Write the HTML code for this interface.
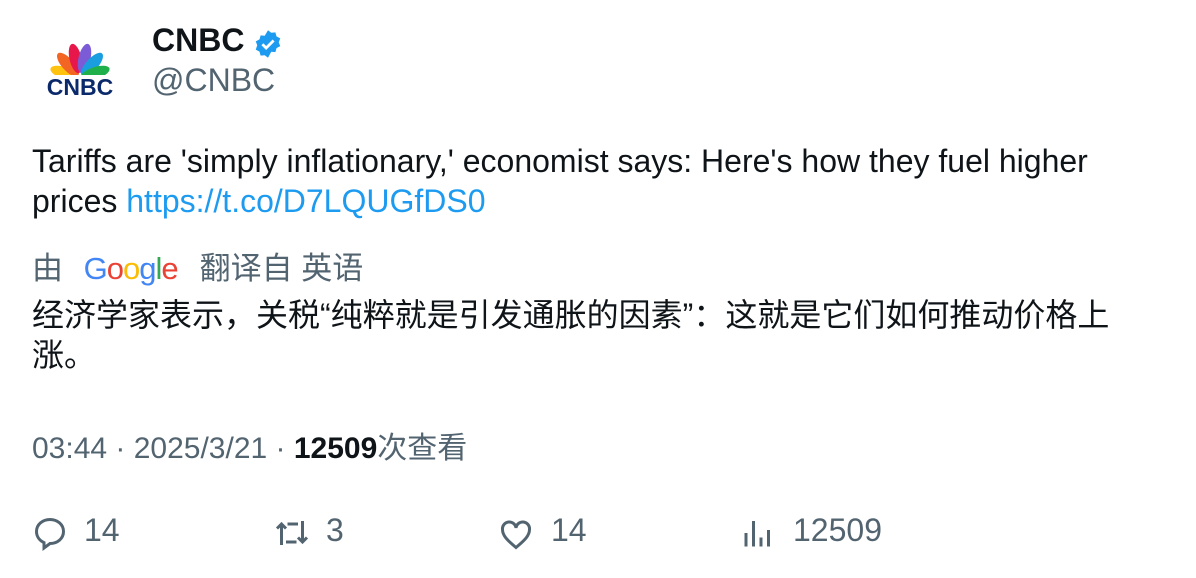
<!DOCTYPE html>
<html><head><meta charset="utf-8">
<style>
body{margin:0;width:1196px;height:578px;background:#fff;position:relative;overflow:hidden;font-family:"Liberation Sans","Noto Sans CJK SC",sans-serif;}
.a{position:absolute;white-space:nowrap;}
</style></head><body>
<svg class="a" style="left:44px;top:38px" width="72" height="62" viewBox="0 0 72 62">
 <g transform="translate(36,40)">
  <ellipse rx="6" ry="15" fill="#ffc20e" transform="rotate(-72) translate(0,-16)"/>
  <ellipse rx="6" ry="15" fill="#f26522" transform="rotate(-42) translate(0,-18)"/>
  <ellipse rx="6" ry="15" fill="#e8174b" transform="rotate(-13) translate(0,-20)"/>
  <ellipse rx="6" ry="15" fill="#7b5cd6" transform="rotate(13) translate(0,-20)"/>
  <ellipse rx="6" ry="15" fill="#1a9ee0" transform="rotate(42) translate(0,-18)"/>
  <ellipse rx="6" ry="15" fill="#20b04b" transform="rotate(72) translate(0,-16)"/>
 </g>
 <rect x="0" y="37" width="72" height="25" fill="#fff"/>
 <text x="36" y="57" text-anchor="middle" font-family="Liberation Sans" font-weight="bold" font-size="23" fill="#0b2a6b">CNBC</text>
</svg>
<div class="a" style="left:152px;top:22px;font-size:32px;font-weight:bold;color:#0f1419">CNBC</div>
<svg class="a" style="left:253px;top:29px" width="30" height="30" viewBox="0 0 24 24"><path d="M12 1l2.6 2 3.3-.3.9 3.2 3 1.6-1.2 3.1 1.2 3.1-3 1.6-.9 3.2-3.3-.3L12 23l-2.6-2-3.3.3-.9-3.2-3-1.6L3.4 13 2.2 9.9l3-1.6.9-3.2 3.3.3z" fill="#1d9bf0"/><path d="M7.5 12.2l3 3 6-6" stroke="#fff" stroke-width="2.2" fill="none"/></svg>
<div class="a" style="left:152px;top:62px;font-size:32px;color:#536471">@CNBC</div>
<div class="a" style="left:32px;top:141px;font-size:32px;line-height:40px;color:#0f1419;white-space:normal;width:1100px">Tariffs are 'simply inflationary,' economist says: Here's how they fuel higher prices <span style="color:#1d9bf0">https://t.co/D7LQUGfDS0</span></div>
<div class="a" style="left:32px;top:243px;font-size:31px;color:#536471">由 <span style="font-size:31px;letter-spacing:-1px;margin:0 22px 0 12px"><span style="color:#4285f4">G</span><span style="color:#ea4335">o</span><span style="color:#fbbc05">o</span><span style="color:#4285f4">g</span><span style="color:#34a853">l</span><span style="color:#ea4335">e</span></span>翻译自 英语</div>
<div class="a" style="left:32px;top:295px;font-size:32px;line-height:40px;color:#0f1419;white-space:normal;width:1110px">经济学家表示，关税“纯粹就是引发通胀的因素”：这就是它们如何推动价格上涨。</div>
<div class="a" style="left:32px;top:423px;font-size:30px;color:#536471">03:44 · 2025/3/21 · <b style="color:#0f1419">12509</b>次查看</div>
<svg class="a" style="left:32px;top:515px" width="36" height="36" viewBox="0 0 24 24"><path d="M12 3c5 0 9 3.4 9 8s-4 8-9 8l-4 3v-3.6C5 17 3 14.3 3 11c0-4.6 4-8 9-8z" fill="none" stroke="#536471" stroke-width="2"/></svg>
<div class="a" style="left:84px;top:512px;font-size:32px;color:#536471">14</div>
<svg class="a" style="left:274px;top:515px" width="36" height="36" viewBox="0 0 24 24"><path d="M5 20V6M2 9l3-3 3 3M9 6h7v0M19 4v14M16 15l3 3 3-3M15 18H8" fill="none" stroke="#536471" stroke-width="2"/></svg>
<div class="a" style="left:326px;top:512px;font-size:32px;color:#536471">3</div>
<svg class="a" style="left:498px;top:516px" width="36" height="36" viewBox="0 0 24 24"><path d="M12 21C6 16 3 13 3 9a4.5 4.5 0 0 1 9-1 4.5 4.5 0 0 1 9 1c0 4-3 7-9 12z" fill="none" stroke="#536471" stroke-width="2"/></svg>
<div class="a" style="left:551px;top:512px;font-size:32px;color:#536471">14</div>
<svg class="a" style="left:740px;top:515px" width="36" height="36" viewBox="0 0 24 24"><path d="M4 21v-9M9 21V4M14 21v-6M19 21v-11" fill="none" stroke="#536471" stroke-width="2"/></svg>
<div class="a" style="left:793px;top:512px;font-size:32px;color:#536471">12509</div>
</body></html>
